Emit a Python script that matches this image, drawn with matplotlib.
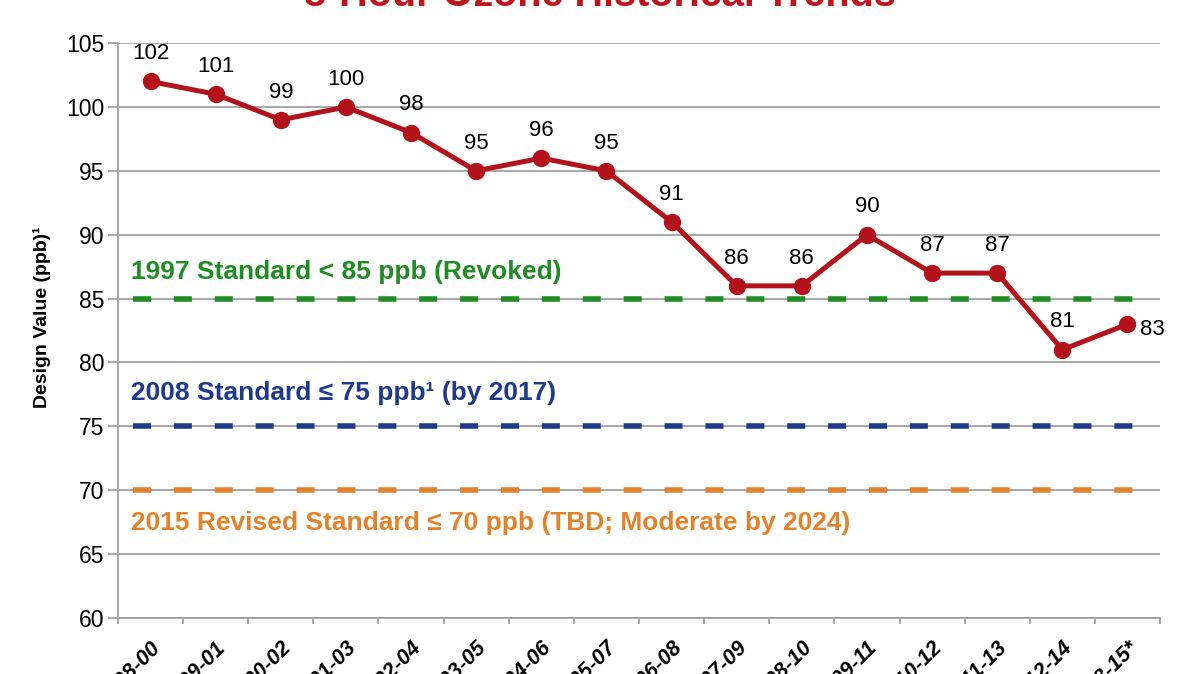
import matplotlib
matplotlib.use("Agg")
import matplotlib.pyplot as plt
from matplotlib import font_manager
import matplotlib.transforms as mtransforms
import numpy as np

# fonts: narrow sans for the big bold texts if it is there
names = {f.name for f in font_manager.fontManager.ttflist}
narrow = 'Liberation Sans Narrow' if 'Liberation Sans Narrow' in names else 'Liberation Sans'
plt.rcParams['font.family'] = ['Liberation Sans', 'DejaVu Sans']

periods = ['1998-00', '1999-01', '2000-02', '2001-03', '2002-04', '2003-05',
           '2004-06', '2005-07', '2006-08', '2007-09', '2008-10', '2009-11',
           '2010-12', '2011-13', '2012-14', '2013-15*']
design_values = [102, 101, 99, 100, 98, 95, 96, 95, 91, 86, 86, 90, 87, 87, 81, 83]

standards = [85, 75, 70]
standard_labels = ['1997 Standard < 85 ppb (Revoked)',
                   '2008 Standard \u2264 75 ppb\u00b9 (by 2017)',
                   '2015 Revised Standard \u2264 70 ppb (TBD; Moderate by 2024)']
standard_colors = ['#208c24', '#1f3a8c', '#e2822a']
label_y = [87.1, 77.6, 67.4]

fig = plt.figure(figsize=(12, 6.74), dpi=100)
ax = fig.add_axes([0.0983, 0.0831, 0.8684, 0.8529])

x = np.arange(len(periods))

ax.set_ylim(60, 105)
ax.set_xlim(-0.5, len(periods) - 0.5)
ax.set_yticks(range(60, 106, 5))
ax.yaxis.grid(True, color='#a0a0a0', linewidth=1.3)
ax.set_axisbelow(True)

for val, txt, col, ty in zip(standards, standard_labels, standard_colors, label_y):
    ax.plot([-0.27, 15.12], [val, val], color=col, linewidth=4,
            dashes=(3.24, 4.12), solid_capstyle='butt', dash_capstyle='butt', zorder=2)
    ax.text(-0.3, ty, txt, color=col, fontsize=19, fontweight='bold',
            family=[narrow, 'DejaVu Sans'], ha='left', va='center')

ax.plot(x, design_values, color='#b3121a', linewidth=3.6, marker='o',
        markersize=11.5, zorder=4)

for i, v in enumerate(design_values):
    if i == len(design_values) - 1:
        ax.annotate(str(v), (i, v), xytext=(9, -4), textcoords='offset points',
                    ha='left', va='center', fontsize=16, clip_on=False)
    else:
        ax.annotate(str(v), (i, v), xytext=(0, 20), textcoords='offset points',
                    ha='center', va='center', fontsize=16)

for s in ['top', 'right']:
    ax.spines[s].set_visible(False)
for s in ['left', 'bottom']:
    ax.spines[s].set_color('#a0a0a0')
    ax.spines[s].set_linewidth(1.3)

ax.set_xticks(np.arange(-0.5, len(periods), 1.0), minor=True)
ax.set_xticks(x)
ax.set_xticklabels(periods, rotation=45, ha='right', rotation_mode='anchor',
                   fontsize=15.5, fontweight='bold', style='italic')
shift = mtransforms.ScaledTranslation(-5 / 100, 0, fig.dpi_scale_trans)
for lab in ax.get_xticklabels():
    lab.set_transform(lab.get_transform() + shift)
ax.tick_params(axis='x', which='major', length=0, pad=14)
ax.tick_params(axis='x', which='minor', length=4, color='#a0a0a0', width=1.3)
ax.tick_params(axis='y', length=7, color='#a0a0a0', width=1.3, labelsize=16.5, pad=3)

ax.set_ylabel('Design Value (ppb)\u00b9', fontsize=14, fontweight='bold')
ax.yaxis.set_label_coords(-0.064, 0.523)

fig.text(0.5, 1 - 6 / 674, '8-Hour Ozone Historical Trends', color='#c0141c',
         fontsize=28.5, fontweight='bold', family=[narrow, 'DejaVu Sans'],
         ha='center', va='baseline')

fig.savefig('out.png', dpi=100)
